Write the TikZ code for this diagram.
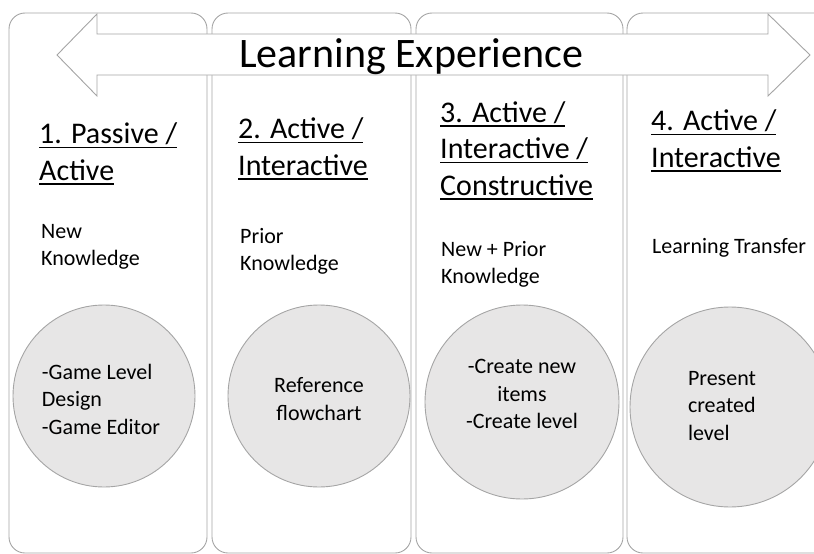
\documentclass[tikz,border=0pt]{standalone}
\usepackage{fontspec}
\setmainfont{Carlito}
\usepackage{tikz}

\definecolor{edgegray}{HTML}{A5A5A5}
\definecolor{discgray}{HTML}{E7E6E6}

\newcommand{\hdul}[1]{\setbox0\hbox{#1}\rlap{\rule[-4.5pt]{\wd0}{1.5pt}}\box0}

\tikzset{
  panel/.style={draw=edgegray, line width=0.9pt, rounded corners=16pt},
  banner/.style={draw=edgegray, line width=0.9pt, fill=white},
  disc/.style={shape=circle, draw=edgegray, line width=0.9pt, fill=discgray, inner sep=0pt},
  heading/.style={anchor=base west, align=left, inner sep=0pt, font=\fontsize{30}{36.5}\selectfont},
  note/.style={anchor=base west, align=left, inner sep=0pt, font=\fontsize{22}{27}\selectfont},
  disctext/.style={inner sep=0pt, font=\fontsize{22}{27.5}\selectfont}
}

\begin{document}
\begin{tikzpicture}[x=1pt, y=-1pt]
    \clip (0,0) rectangle (814,554);

    % the four stages
    \draw[panel] (9,13) rectangle (207,553);
    \draw[panel] (212,13) rectangle (411,553);
    \draw[panel] (416,13) rectangle (623,553);
    \draw[panel] (627,13) rectangle (845,553);

    % double arrow on top
    \draw[banner] (57,55) -- (97,14) -- (97,34) -- (768,34) -- (768,14) -- (810,55)
        -- (768,96) -- (768,75) -- (97,75) -- (97,96) -- cycle;
    \node[anchor=base, inner sep=0pt, font=\fontsize{42}{50}\selectfont] (title) at (411,67) {Learning Experience};

    % base of a multi-line node = its last line
    \node[heading] (h1) at (39,180) {\hdul{1. Passive /}\\\hdul{Active}};
    \node[heading] (h2) at (238,175) {\hdul{2. Active /}\\\hdul{Interactive}};
    \node[heading] (h3) at (440,195) {\hdul{3. Active /}\\\hdul{Interactive /}\\\hdul{Constructive}};
    \node[heading] (h4) at (651,167) {\hdul{4. Active /}\\\hdul{Interactive}};

    \node[note] (n1) at (41,265) {New\\Knowledge};
    \node[note] (n2) at (240,270) {Prior\\Knowledge};
    \node[note] (n3) at (441,283) {New + Prior\\Knowledge};
    \node[note] (n4) at (652,253) {Learning Transfer};

    \node[disc, minimum size=182pt] (c1) at (104,396) {};
    \node[disc, minimum size=182pt] (c2) at (319,396) {};
    \node[disc, minimum size=194pt] (c3) at (522,402) {};
    \node[disc, minimum size=200pt] (c4) at (730,407) {};

    \node[disctext, align=left] (t1) at ([shift={(-3pt,-3pt)}]c1) {-Game Level\\Design\\-Game Editor};
    \node[disctext, align=center] (t2) at ([yshift=-3pt]c2) {Reference\\flowchart};
    \node[disctext, align=center] (t3) at ([yshift=8pt]c3) {-Create new\\items\\-Create level};
    \node[disctext, align=left] (t4) at ([shift={(-8pt,1pt)}]c4) {Present\\created\\level};
\end{tikzpicture}
\end{document}
